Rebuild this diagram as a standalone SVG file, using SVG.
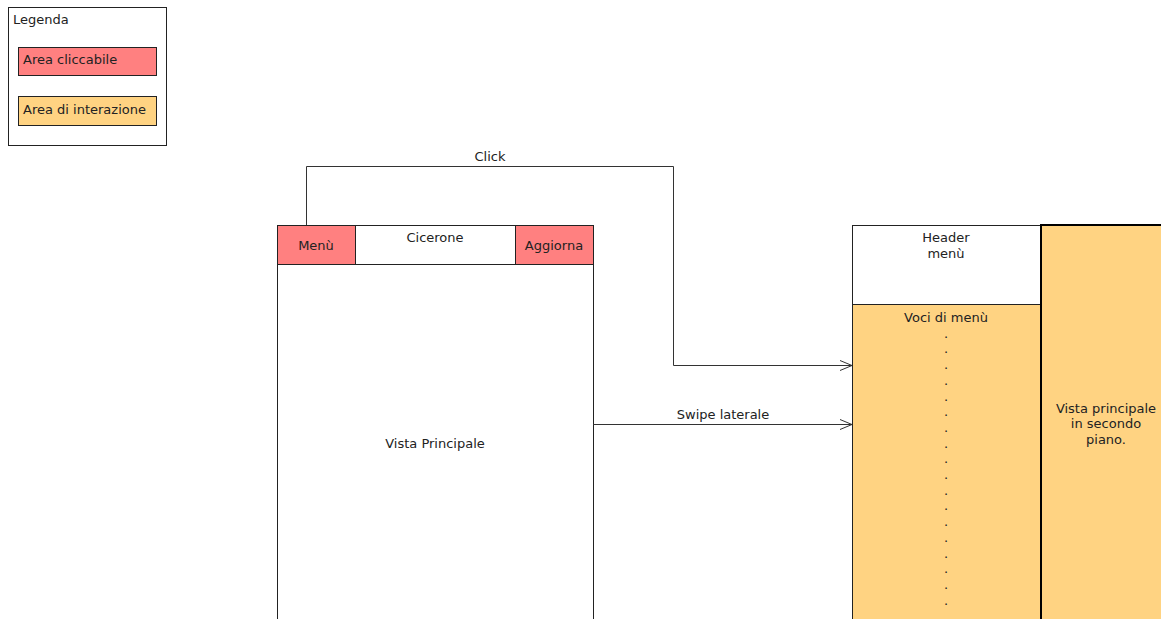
<svg xmlns="http://www.w3.org/2000/svg" width="1161" height="619" viewBox="0 0 1161 619">
<style>
text{font-family:"DejaVu Sans","Liberation Sans",sans-serif;font-size:13px;fill:#222}
.c{text-anchor:middle}
.box{stroke:#222;stroke-width:1}
.red{fill:#FF8080}
.ora{fill:#FFD382}
.wh{fill:#fff}
.conn{fill:none;stroke:#333;stroke-width:1}
</style>
<defs>
<marker id="arr" markerWidth="14" markerHeight="12" refX="13" refY="6" orient="auto" markerUnits="userSpaceOnUse">
<path d="M1,1 L13,6 L1,11" fill="none" stroke="#333" stroke-width="1"/>
</marker>
</defs>
<rect width="1161" height="619" fill="#fff"/>
<g id="legend">
<rect class="box wh" x="8.5" y="7.5" width="158" height="138"/>
<text x="13" y="24">Legenda</text>
<rect class="box red" x="18.5" y="47.5" width="138" height="28"/>
<text x="23" y="64">Area cliccabile</text>
<rect class="box ora" x="18.5" y="96.5" width="138" height="29"/>
<text x="23" y="114">Area di interazione</text>
</g>
<g id="main-view">
<rect class="box wh" x="277.5" y="264.5" width="316" height="400"/>
<text class="c" x="435" y="448">Vista Principale</text>
</g>
<g id="menu-btn">
<rect class="box red" x="277.5" y="225.5" width="78" height="39"/>
<text class="c" x="316" y="250">Menù</text>
</g>
<g id="title">
<rect class="box wh" x="355.5" y="225.5" width="160" height="39"/>
<text class="c" x="435" y="242">Cicerone</text>
</g>
<g id="refresh-btn">
<rect class="box red" x="515.5" y="225.5" width="78" height="39"/>
<text class="c" x="554" y="250">Aggiorna</text>
</g>
<g id="header-menu">
<rect class="box wh" x="852.5" y="225.5" width="189" height="79"/>
<text class="c" x="946" y="242">Header</text>
<text class="c" x="946" y="258">menù</text>
</g>
<g id="menu-items">
<rect class="box ora" x="852.5" y="304.5" width="189" height="400"/>
<text class="c" x="946" y="322">Voci di menù<tspan x="946" dy="15.7">.</tspan><tspan x="946" dy="15.7">.</tspan><tspan x="946" dy="15.7">.</tspan><tspan x="946" dy="15.7">.</tspan><tspan x="946" dy="15.7">.</tspan><tspan x="946" dy="15.7">.</tspan><tspan x="946" dy="15.7">.</tspan><tspan x="946" dy="15.7">.</tspan><tspan x="946" dy="15.7">.</tspan><tspan x="946" dy="15.7">.</tspan><tspan x="946" dy="15.7">.</tspan><tspan x="946" dy="15.7">.</tspan><tspan x="946" dy="15.7">.</tspan><tspan x="946" dy="15.7">.</tspan><tspan x="946" dy="15.7">.</tspan><tspan x="946" dy="15.7">.</tspan><tspan x="946" dy="15.7">.</tspan><tspan x="946" dy="15.7">.</tspan></text>
</g>
<g id="background-view">
<rect class="ora" x="1041" y="225" width="130" height="400" stroke="#000" stroke-width="2"/>
<text class="c" x="1106" y="413">Vista principale</text>
<text class="c" x="1106" y="428">in secondo</text>
<text class="c" x="1106" y="444">piano.</text>
</g>
<g id="connectors">
<path class="conn" d="M306.5,225 V166.5 H673.5 V365.5 H852" marker-end="url(#arr)"/>
<text class="c" x="490" y="161">Click</text>
<path class="conn" d="M593,424.5 H852" marker-end="url(#arr)"/>
<text class="c" x="723" y="419">Swipe laterale</text>
</g>
</svg>
